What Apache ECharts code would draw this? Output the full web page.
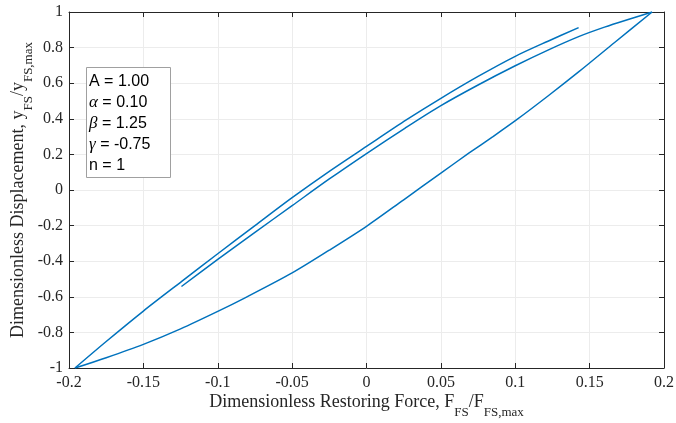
<!DOCTYPE html>
<html>
<head>
<meta charset="utf-8">
<script src="https://cdn.jsdelivr.net/npm/echarts@6/dist/echarts.min.js"></script>
<style>
html, body { margin: 0; padding: 0; background: #fff; }
#chart { width: 676px; height: 423px; }
</style>
</head>
<body>
<div id="chart"></div>
<script>
// 曲线数据 [力, 位移]
// 初始加载段（从内部起点到峰值）
var loadBranch = [
	[-0.1244, -0.542], [-0.100, -0.390], [-0.075, -0.238], [-0.050, -0.088],
	[-0.025, 0.062], [0.000, 0.205], [0.026, 0.348], [0.050, 0.474],
	[0.075, 0.590], [0.100, 0.698], [0.122, 0.786], [0.143, 0.863],
	[0.160, 0.915], [0.177, 0.961], [0.192, 1.0]
];
// 卸载段（峰值到谷值）
var unloadBranch = [
	[0.192, 1.0], [0.167, 0.830], [0.143, 0.666], [0.122, 0.528],
	[0.101, 0.395], [0.085, 0.300], [0.069, 0.208], [0.050, 0.095],
	[0.025, -0.055], [0.000, -0.204], [-0.025, -0.338], [-0.050, -0.466],
	[-0.081, -0.603], [-0.100, -0.682], [-0.125, -0.780], [-0.150, -0.867],
	[-0.175, -0.942], [-0.196, -1.0]
];
// 再加载段（谷值到终点）
var reloadBranch = [
	[-0.196, -1.0], [-0.175, -0.851], [-0.150, -0.680], [-0.124, -0.512],
	[-0.100, -0.358], [-0.075, -0.200], [-0.050, -0.043], [-0.025, 0.105],
	[0.000, 0.245], [0.027, 0.395], [0.050, 0.515], [0.075, 0.638],
	[0.100, 0.751], [0.122, 0.836], [0.1426, 0.912]
];
var paramLines = ['A = 1.00', '{g|α} = 0.10', '{g|β} = 1.25', '{g|γ} = -0.75', 'n = 1'];

var lineColor = '#0072bd';
var axisColor = '#262626';
var serif = '"Liberation Serif", "DejaVu Serif", serif';
var sans = '"Liberation Sans", Arial, sans-serif';

function branch(data) {
	return {
		type: 'line',
		data: data,
		showSymbol: false,
		smooth: 0.3,
		lineStyle: { color: lineColor, width: 1.5 },
		animation: false
	};
}

var myChart = echarts.init(document.getElementById('chart'));
var titleStyle = {
	fontFamily: serif,
	fontSize: 18,
	color: axisColor,
	rich: {
		a: { fontFamily: serif, fontSize: 18, color: axisColor, lineHeight: 26, verticalAlign: 'top' },
		s: { fontFamily: serif, fontSize: 13, color: axisColor, lineHeight: 26, verticalAlign: 'bottom' }
	}
};
var option = {
	backgroundColor: '#fff',
	grid: { left: 69, right: 12, top: 12, bottom: 55, containLabel: false, outerBoundsMode: 'none' },
	xAxis: [{
		type: 'value',
		min: -0.2, max: 0.2, interval: 0.05,
		position: 'bottom',
		axisLine: { show: true, onZero: false, lineStyle: { color: axisColor, width: 1 } },
		axisTick: { show: true, inside: true, length: 5, lineStyle: { color: axisColor } },
		axisLabel: { color: axisColor, fontFamily: serif, fontSize: 16, margin: 7 },
		splitLine: { show: true, lineStyle: { color: '#ececec', width: 1 } },
		name: '{a|Dimensionless Restoring Force, F}{s|FS}{a|/F}{s|FS,max}',
		nameLocation: 'middle',
		nameGap: 25,
		nameMoveOverlap: false,
		nameTextStyle: titleStyle
	}, {
		type: 'value',
		min: -0.2, max: 0.2, interval: 0.05,
		position: 'top',
		axisLine: { show: true, onZero: false, lineStyle: { color: axisColor, width: 1 } },
		axisTick: { show: true, inside: true, length: 5, lineStyle: { color: axisColor } },
		axisLabel: { show: false },
		splitLine: { show: false }
	}],
	yAxis: [{
		type: 'value',
		min: -1, max: 1, interval: 0.2,
		position: 'left',
		axisLine: { show: true, onZero: false, lineStyle: { color: axisColor, width: 1 } },
		axisTick: { show: true, inside: true, length: 5, lineStyle: { color: axisColor } },
		axisLabel: { color: axisColor, fontFamily: serif, fontSize: 16, margin: 6 },
		splitLine: { show: true, lineStyle: { color: '#ececec', width: 1 } },
		name: '{a|Dimensionless Displacement, y}{s|FS}{a|/y}{s|FS,max}',
		nameLocation: 'middle',
		nameGap: 34,
		nameMoveOverlap: false,
		nameTextStyle: titleStyle
	}, {
		type: 'value',
		min: -1, max: 1, interval: 0.2,
		position: 'right',
		axisLine: { show: true, onZero: false, lineStyle: { color: axisColor, width: 1 } },
		axisTick: { show: true, inside: true, length: 5, lineStyle: { color: axisColor } },
		axisLabel: { show: false },
		splitLine: { show: false }
	}],
	series: [branch(loadBranch), branch(unloadBranch), branch(reloadBranch)],
	graphic: [{
		type: 'rect',
		left: 86, top: 67,
		shape: { width: 84, height: 110 },
		style: { fill: '#fff', stroke: '#a0a0a0', lineWidth: 1 },
		z: 10
	}, {
		type: 'text',
		left: 89, top: 71,
		z: 11,
		style: {
			text: paramLines.join('\n'),
			fill: '#000',
			font: '16px ' + sans,
			lineHeight: 21,
			rich: {
				g: { fontFamily: serif, fontStyle: 'italic', fontSize: 17, fill: '#000', lineHeight: 21 }
			}
		}
	}]
};
myChart.setOption(option);
window.addEventListener("resize", function() {
	myChart.resize();
});
</script>
</body>
</html>
